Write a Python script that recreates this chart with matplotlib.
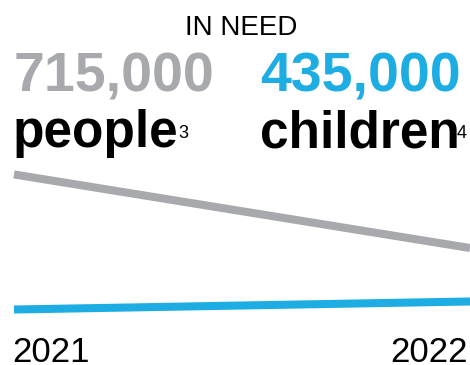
import matplotlib
matplotlib.use("Agg")
import matplotlib.pyplot as plt

# data
years = [2021, 2022]
people = [1100000, 715000]
children = [393000, 435000]
people_label = "715,000"
children_label = "435,000"

GREY = "#A7A9AC"
BLUE = "#1DADE3"

W, H = 470, 365
plt.rcParams['font.family'] = ['Liberation Sans', 'DejaVu Sans']

fig = plt.figure(figsize=(W / 100, H / 100), dpi=100)


def fx(px):
    return px / W


def fy(py):
    return 1 - py / H


# lines
ax = fig.add_axes([fx(14), 0, (W - 14) / W, 1])
ax.plot(years, people, color=GREY, lw=5.8, solid_capstyle='butt', clip_on=False)
ax.plot(years, children, color=BLUE, lw=5.8, solid_capstyle='butt', clip_on=False)
ax.set_xlim(years[0], years[1])
ax.set_ylim(102600, 2013000)
ax.axis('off')

# texts
fig.text(fx(241), fy(35), "IN NEED", fontsize=20, ha='center', va='baseline')
fig.text(fx(14), fy(92), people_label, fontsize=40, fontweight='bold',
         color=GREY, ha='left', va='baseline')
fig.text(fx(260), fy(92), children_label, fontsize=40, fontweight='bold',
         color=BLUE, ha='left', va='baseline')
fig.text(fx(13), fy(147), "people", fontsize=37, fontweight='bold',
         ha='left', va='baseline')
fig.text(fx(178), fy(138), "3", fontsize=13, ha='left', va='baseline')
fig.text(fx(260), fy(147), "children", fontsize=37, fontweight='bold',
         ha='left', va='baseline')
fig.text(fx(457), fy(138), "4", fontsize=13, ha='left', va='baseline')

fig.text(fx(12), fy(362), str(years[0]), fontsize=25, ha='left', va='baseline')
fig.text(fx(468), fy(362), str(years[1]), fontsize=25, ha='right', va='baseline')

fig.savefig("out.png", dpi=100)
